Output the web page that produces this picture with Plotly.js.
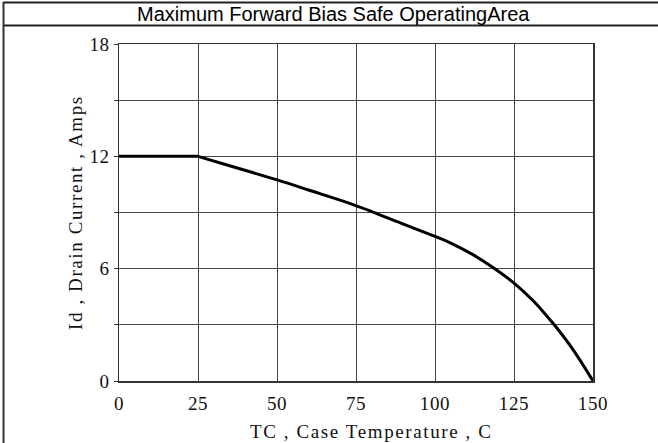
<!DOCTYPE html>
<html>
<head>
<meta charset="utf-8">
<script src="https://cdn.plot.ly/plotly-3.0.1.min.js"></script>
<style>
html,body{margin:0;padding:0;background:#fff;}
#chart{width:658px;height:443px;}
#chart .annotation-text.serif-title{letter-spacing:1.6px;}
#chart .xtick text,#chart .ytick text{letter-spacing:0.6px;}
</style>
</head>
<body>
<div id="chart"></div>
<script>
const tempC = [0, 25, 35, 50, 60, 73, 80, 90, 100, 105, 112, 118, 125, 131, 135, 138, 144, 150];
const drainA = [12, 12, 11.5, 10.74, 10.2, 9.49, 9.05, 8.38, 7.72, 7.37, 6.75, 6.1, 5.23, 4.3, 3.55, 2.95, 1.6, 0];
const xTicks = [0, 25, 50, 75, 100, 125, 150];
const yTicks = [0, 3, 6, 9, 12, 15, 18];
const yTickText = ['0', '', '6', '', '12', '', '18'];
const chartTitle = 'Maximum Forward Bias Safe OperatingArea';
const xTitle = 'TC , Case Temperature , C';
const yTitle = 'Id , Drain Current , Amps';

const L = 119, R = 593, T = 44, B = 381;
const px = v => (v - L) / (R - L);
const py = v => (B - v) / (B - T);

const serif = {family: 'Liberation Serif, Times New Roman, serif', size: 19, color: '#111'};

Plotly.newPlot('chart', [
  {x: tempC.slice(0, 2), y: drainA.slice(0, 2), mode: 'lines', type: 'scatter',
   line: {color: '#000', width: 3}, hoverinfo: 'skip', showlegend: false},
  {x: tempC.slice(1), y: drainA.slice(1), mode: 'lines', type: 'scatter',
   line: {color: '#000', width: 3, shape: 'spline', smoothing: 1}, hoverinfo: 'skip', showlegend: false}
], {
  width: 658, height: 443,
  margin: {l: L, r: 658 - R, t: T, b: 443 - B, pad: 0},
  paper_bgcolor: '#fff', plot_bgcolor: '#fff',
  xaxis: {
    range: [0, 150], tickvals: xTicks, ticktext: xTicks.map(String),
    showgrid: true, gridcolor: '#444', gridwidth: 1,
    showline: true, linecolor: '#333', linewidth: 1.5, mirror: true,
    zeroline: false, ticks: '', ticklabelstandoff: 5,
    tickfont: serif
  },
  yaxis: {
    range: [0, 18], tickvals: yTicks, ticktext: yTickText,
    showgrid: true, gridcolor: '#444', gridwidth: 1,
    showline: true, linecolor: '#333', linewidth: 1.5, mirror: true,
    zeroline: false, ticks: 'outside', ticklen: 4, tickcolor: '#333',
    tickfont: serif
  },
  annotations: [
    {text: chartTitle, xref: 'paper', yref: 'paper',
     x: px(333), y: py(14.5), xanchor: 'center', yanchor: 'middle', showarrow: false,
     font: {family: 'Liberation Sans, Arial, sans-serif', size: 20, color: '#000'}},
    {text: xTitle, xref: 'paper', yref: 'paper', x: px(371), y: py(431),
     xanchor: 'center', yanchor: 'middle', showarrow: false, font: serif},
    {text: yTitle, xref: 'paper', yref: 'paper', x: px(75), y: py(213), textangle: -90,
     xanchor: 'center', yanchor: 'middle', showarrow: false, font: serif}
  ],
  shapes: [
    {type: 'line', xref: 'paper', yref: 'paper', x0: px(3), x1: px(658), y0: py(2.5), y1: py(2.5), line: {color: '#222', width: 2}},
    {type: 'line', xref: 'paper', yref: 'paper', x0: px(3), x1: px(658), y0: py(25.5), y1: py(25.5), line: {color: '#222', width: 2}},
    {type: 'line', xref: 'paper', yref: 'paper', x0: px(3.5), x1: px(3.5), y0: py(2), y1: py(443), line: {color: '#333', width: 2}}
  ]
}, {staticPlot: true}).then(gd => {
  const anns = gd.querySelectorAll('.annotation-text');
  if (anns[1]) anns[1].classList.add('serif-title');
  if (anns[2]) anns[2].classList.add('serif-title');
});
</script>
</body>
</html>
